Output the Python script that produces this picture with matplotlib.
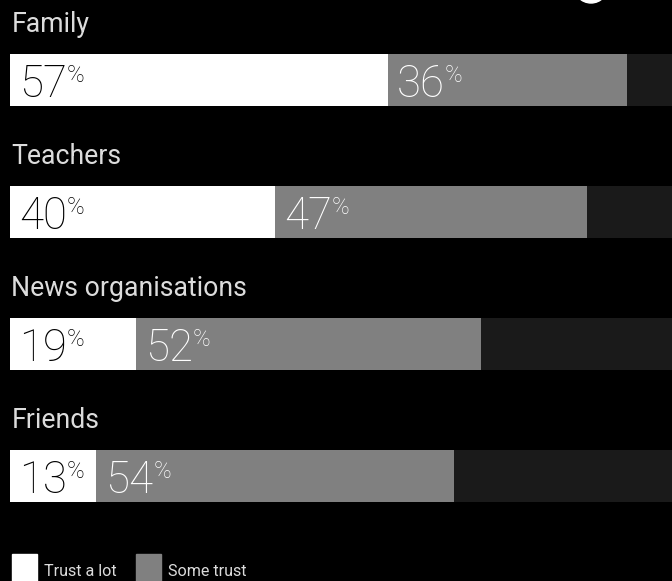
import matplotlib
matplotlib.use("Agg")
import matplotlib.pyplot as plt
from matplotlib.patches import Rectangle, Ellipse

categorias = ["Family", "Teachers", "News organisations", "Friends"]
confia_muito = [57, 40, 19, 13]
alguma_confianca = [36, 47, 52, 54]
legenda = ["Trust a lot", "Some trust"]

BRANCO = "#ffffff"
CINZA = "#808080"
ESCURO = "#1a1a1a"
FUNDO = "#000000"
TEXTO = "#dcdcdc"

plt.rcParams['font.family'] = ['Roboto', 'DejaVu Sans']

W, H = 672, 581
fig = plt.figure(figsize=(W / 100, H / 100), dpi=100, facecolor=FUNDO)
ax = fig.add_axes([0, 0, 1, 1])
ax.set_facecolor(FUNDO)
ax.axis("off")

px_por_pct = 6.63
x0 = 10
ax.set_xlim(-x0 / px_por_pct, (W - x0) / px_por_pct)
ax.set_ylim(H, 0)

passo = 132
topo_barra = 54
altura = 52

for i, (cat, a, b) in enumerate(zip(categorias, confia_muito, alguma_confianca)):
    y = topo_barra + i * passo + altura / 2
    ax.barh(y, 100, height=altura, color=ESCURO, edgecolor="none")
    ax.barh(y, b, left=a, height=altura, color=CINZA, edgecolor="none")
    ax.barh(y, a, height=altura, color=BRANCO, edgecolor="none")

    ax.text(0.2, topo_barra + i * passo - 22, cat, color=TEXTO, fontsize=19.2,
            fontweight="normal", va="baseline", ha="left")

    base = topo_barra + i * passo + altura - 9
    for inicio, valor, cor in [(0, a, "#000000"), (a, b, BRANCO)]:
        t = ax.text(inicio + 9 / px_por_pct, base, str(valor), color=cor,
                    fontsize=31.5, fontweight="light", va="baseline", ha="left")
        ax.annotate("%", xy=(1, 1), xycoords=t, xytext=(0, -1),
                    textcoords="offset pixels", color=cor, fontsize=17,
                    fontweight="light", va="top", ha="left")

# legenda
for (x, cor, rotulo, xt) in [(12, BRANCO, legenda[0], 44), (136, CINZA, legenda[1], 168)]:
    fig.add_artist(Rectangle((x / W, 1 - 581 / H), 25 / W, 27 / H,
                             transform=fig.transFigure, color=cor))
    fig.text(xt / W, 1 - 576 / H, rotulo, color=TEXTO, fontsize=11.6,
             fontweight="normal", va="baseline", ha="left")

# pedaco do logo no topo
fig.add_artist(Ellipse((591 / W, 1 + 16 / H), 36 / W, 38 / H,
                       transform=fig.transFigure, color=BRANCO))
fig.add_artist(Ellipse((591 / W, 1 + 19 / H), 32 / W, 36 / H,
                       transform=fig.transFigure, color=FUNDO))

fig.savefig("out.png", dpi=100, facecolor=FUNDO)
